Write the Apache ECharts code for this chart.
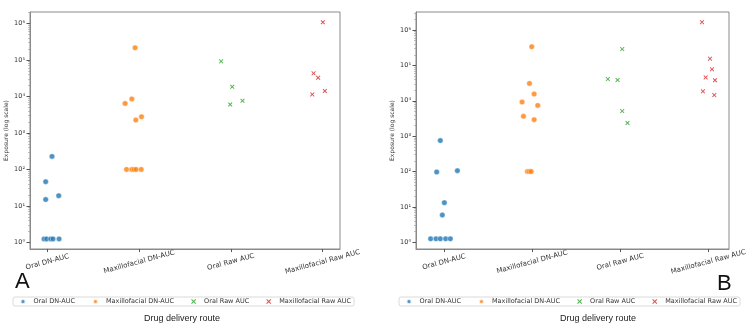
<!DOCTYPE html>
<html>
<head>
<meta charset="utf-8">
<script src="https://cdn.jsdelivr.net/npm/echarts@6/dist/echarts.min.js"></script>
<style>
  html, body { margin: 0; padding: 0; background: #fff; }
  #chart { width: 750px; height: 329px; }
</style>
</head>
<body>
<div id="chart"></div>
<script>
var categories = ['Oral DN-AUC', 'Maxillofacial DN-AUC', 'Oral Raw AUC', 'Maxillofacial Raw AUC'];
var colors = ['#1f77b4', '#ff7f0e', '#2ca02c', '#d62728'];
var yTicks = [1, 10, 100, 1000, 10000, 100000, 1000000];
var yTickLabels = ['10\u2070', '10\u00b9', '10\u00b2', '10\u00b3', '10\u2074', '10\u2075', '10\u2076'];

// panel A : jitter around the category and exposure value
var aOralDNJitter = [0.05, -0.019, -0.019, 0.123, -0.037, -0.008, 0.036, 0.061, 0.127];
var aOralDNValues = [227, 46, 15, 19, 1.25, 1.25, 1.25, 1.25, 1.25];
var aMaxDNJitter = [-0.044, -0.153, -0.08, -0.036, 0.026, -0.137, -0.08, -0.055, -0.033, 0.022];
var aMaxDNValues = [214000, 6400, 8500, 2240, 2760, 100, 100, 100, 100, 100];
var aOralRawJitter = [-0.106, 0.015, -0.007, 0.127];
var aOralRawValues = [91000, 18300, 6000, 7600];
var aMaxRawJitter = [0.003, -0.098, -0.048, -0.112, 0.025];
var aMaxRawValues = [1070000, 42700, 32300, 11300, 14000];

// panel B
var bOralDNJitter = [-0.042, -0.083, 0.152, 0.004, -0.019, -0.152, -0.091, -0.042, 0.019, 0.072];
var bOralDNValues = [750, 97, 106, 13.2, 5.9, 1.25, 1.25, 1.25, 1.25, 1.25];
var bMaxDNJitter = [-0.004, -0.03, 0.023, -0.114, 0.064, -0.098, 0.023, -0.053, -0.03, -0.011];
var bMaxDNValues = [338000, 31000, 15500, 9200, 7400, 3650, 2930, 100, 100, 100];
var bOralRawJitter = [0.023, -0.14, -0.03, 0.023, 0.083];
var bOralRawValues = [290000, 41000, 38700, 5120, 2350];
var bMaxRawJitter = [-0.072, 0.019, 0.042, -0.03, 0.076, -0.061, 0.068];
var bMaxRawValues = [1670000, 155000, 77500, 45800, 38000, 18500, 14500];

var crossPath = 'path://M1.5,0L5,3.5L8.5,0L10,1.5L6.5,5L10,8.5L8.5,10L5,6.5L1.5,10L0,8.5L3.5,5L0,1.5Z';

var minorTicks = [];
for (var e = 0; e < 7; e++) {
  for (var m = 2; m < 10; m++) minorTicks.push(m * Math.pow(10, e));
}

function points(cat, jitter, values) {
  return values.map(function (v, i) { return [cat + jitter[i], v]; });
}

function makeSeries(gridNo, sets) {
  return sets.map(function (s, i) {
    var raw = i >= 2;
    return {
      name: categories[i],
      type: 'scatter',
      xAxisIndex: gridNo,
      yAxisIndex: gridNo * 2,
      symbol: raw ? crossPath : 'circle',
      symbolSize: raw ? 4.5 : 5.5,
      itemStyle: raw ? { color: colors[i] } : { color: colors[i], borderColor: '#fff', borderWidth: 0.5 },
      data: points(i, s[0], s[1])
    };
  });
}

var lineColor = '#8a8a8a';
var textColor = '#333';

function xAxisFor(gridNo, min, max) {
  return {
    gridIndex: gridNo, type: 'value', min: min, max: max,
    splitLine: { show: false },
    axisLine: { show: true, onZero: false, lineStyle: { color: lineColor, width: 1 } },
    axisTick: { show: true, customValues: [0, 1, 2, 3], length: 3, lineStyle: { color: '#555' } },
    axisLabel: {
      customValues: [0, 1, 2, 3],
      formatter: function (v) { return categories[Math.round(v)]; },
      rotate: 15, align: 'center', verticalAlign: 'middle', margin: 13,
      fontSize: 7, color: textColor, fontFamily: 'DejaVu Sans'
    }
  };
}

function yAxisFor(gridNo, minExp, maxExp) {
  return [{
    gridIndex: gridNo, type: 'log', logBase: 10, position: 'left',
    min: Math.pow(10, minExp), max: Math.pow(10, maxExp),
    splitLine: { show: false },
    axisLine: { show: true, onZero: false, lineStyle: { color: lineColor, width: 1 } },
    axisTick: { show: true, customValues: yTicks, length: 3.5, lineStyle: { color: '#555' } },
    axisLabel: {
      customValues: yTicks,
      formatter: function (v) { return yTickLabels[Math.round(Math.log10(v))]; },
      fontSize: 6.5, color: textColor, margin: 5, fontFamily: 'DejaVu Sans'
    },
    name: 'Exposure (log scale)', nameLocation: 'middle', nameGap: 21,
    nameTextStyle: { fontSize: 6, color: textColor, fontFamily: 'DejaVu Sans' }
  }, {
    gridIndex: gridNo, type: 'log', logBase: 10, position: 'left',
    min: Math.pow(10, minExp), max: Math.pow(10, maxExp),
    splitLine: { show: false },
    axisLine: { show: false, onZero: false },
    axisLabel: { show: false },
    axisTick: { show: true, customValues: minorTicks, length: 2, lineStyle: { color: '#999', width: 0.6 } }
  }];
}

function legendFor(left) {
  return {
    left: left, top: 297, orient: 'horizontal',
    itemWidth: 5, itemHeight: 5, itemGap: 17,
    padding: [1, 3, 1, 6.5],
    borderColor: '#d0d0d0', borderWidth: 0.8, borderRadius: 2,
    textStyle: { fontSize: 6.5, color: textColor, fontFamily: 'DejaVu Sans', padding: [0, 0, 0, 3] },
    data: categories
  };
}

var chart = echarts.init(document.getElementById('chart'), null, { renderer: 'canvas' });
chart.setOption({
  animation: false,
  grid: [
    { left: 30, top: 12, width: 310, height: 237, show: true, borderColor: lineColor, borderWidth: 1 },
    { left: 416, top: 12, width: 313, height: 237, show: true, borderColor: lineColor, borderWidth: 1 }
  ],
  xAxis: [xAxisFor(0, -0.19, 3.19), xAxisFor(1, -0.318, 3.235)],
  yAxis: yAxisFor(0, -0.18, 6.31).concat(yAxisFor(1, -0.19, 6.51)),
  legend: [legendFor(13), legendFor(399)],
  graphic: [
    { type: 'text', x: 15, y: 282, style: { text: 'A', font: '22px "Liberation Sans"', fill: '#111', verticalAlign: 'middle' } },
    { type: 'text', x: 717, y: 284, style: { text: 'B', font: '22px "Liberation Sans"', fill: '#111', verticalAlign: 'middle' } },
    { type: 'text', x: 182, y: 319, style: { text: 'Drug delivery route', font: '9px "Liberation Sans"', fill: '#222', align: 'center', verticalAlign: 'middle' } },
    { type: 'text', x: 598, y: 319, style: { text: 'Drug delivery route', font: '9px "Liberation Sans"', fill: '#222', align: 'center', verticalAlign: 'middle' } }
  ],
  series: makeSeries(0, [
    [aOralDNJitter, aOralDNValues], [aMaxDNJitter, aMaxDNValues],
    [aOralRawJitter, aOralRawValues], [aMaxRawJitter, aMaxRawValues]
  ]).concat(makeSeries(1, [
    [bOralDNJitter, bOralDNValues], [bMaxDNJitter, bMaxDNValues],
    [bOralRawJitter, bOralRawValues], [bMaxRawJitter, bMaxRawValues]
  ]))
});
</script>
</body>
</html>
